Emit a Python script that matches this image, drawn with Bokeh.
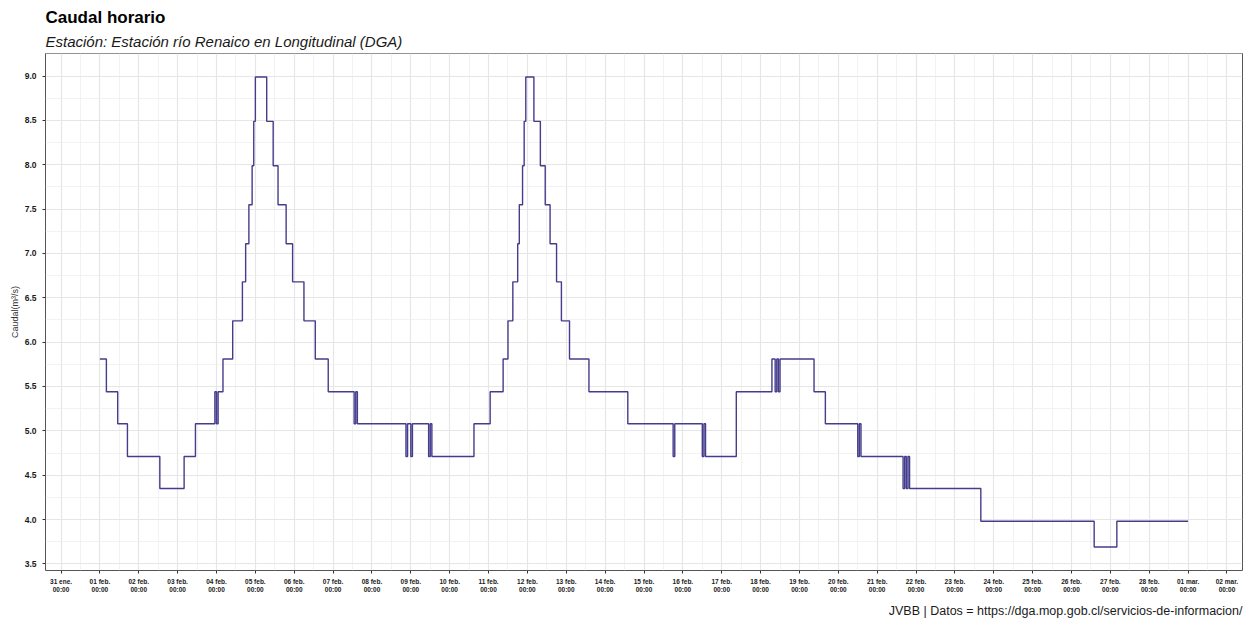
from bokeh.plotting import figure
from bokeh.models import FixedTicker, Title, Range1d, ColumnDataSource
from bokeh.embed import file_html
from bokeh.resources import INLINE

# ---------------- data (hours since 01 feb 00:00, value in m3/s after each change) ----
change_hours = [0, 4, 11, 17, 37, 52, 59, 71, 72, 73, 76, 82, 88, 90, 92, 94, 95, 96,
                103, 107, 110, 115, 119, 126, 133, 141, 157, 158, 159, 189, 190, 192,
                193, 203, 204, 205, 231, 241, 249, 252, 255, 258, 259, 261, 262, 263,
                268, 272, 275, 278, 282, 285, 290, 302, 326, 354, 355, 372, 373, 374,
                393, 415, 417, 418, 419, 420, 441, 448, 468, 469, 470, 496, 497, 498,
                499, 500, 544, 614, 628, 672]
caudal = [5.81, 5.44, 5.08, 4.71, 4.35, 4.71, 5.08, 5.44, 5.08, 5.44, 5.81, 6.24, 6.68,
          7.11, 7.55, 7.99, 8.49, 8.99,
          8.49, 7.99, 7.55, 7.11, 6.68, 6.24, 5.81, 5.44, 5.08, 5.44, 5.08, 4.71, 5.08, 4.71,
          5.08, 4.71, 5.08, 4.71, 5.08, 5.44, 5.81, 6.24, 6.68, 7.11, 7.55, 7.99, 8.49, 8.99,
          8.49, 7.99, 7.55, 7.11, 6.68, 6.24, 5.81, 5.44, 5.08, 4.71, 5.08, 4.71, 5.08, 4.71,
          5.44, 5.81, 5.44, 5.81, 5.44, 5.81, 5.44, 5.08, 4.71, 5.08, 4.71, 4.35, 4.71, 4.35,
          4.71, 4.35, 3.98, 3.69, 3.98, 3.98]

x_tick_hours = [-24 + 24 * i for i in range(31)]
x_tick_labels = ["31 ene.", "01 feb.", "02 feb.", "03 feb.", "04 feb.", "05 feb.", "06 feb.",
                 "07 feb.", "08 feb.", "09 feb.", "10 feb.", "11 feb.", "12 feb.", "13 feb.",
                 "14 feb.", "15 feb.", "16 feb.", "17 feb.", "18 feb.", "19 feb.", "20 feb.",
                 "21 feb.", "22 feb.", "23 feb.", "24 feb.", "25 feb.", "26 feb.", "27 feb.",
                 "28 feb.", "01 mar.", "02 mar."]
x_tick_time = "00:00"
x_minor_hours = [-12 + 24 * i for i in range(30)]

y_ticks = [3.5, 4.0, 4.5, 5.0, 5.5, 6.0, 6.5, 7.0, 7.5, 8.0, 8.5, 9.0]
y_tick_labels = ["3.5", "4.0", "4.5", "5.0", "5.5", "6.0", "6.5", "7.0", "7.5", "8.0", "8.5", "9.0"]
y_minor = [3.75, 4.25, 4.75, 5.25, 5.75, 6.25, 6.75, 7.25, 7.75, 8.25, 8.75, 9.25]

title_text = "Caudal horario"
subtitle_text = "Estación: Estación río Renaico en Longitudinal (DGA)"
caption_text = "JVBB | Datos = https://dga.mop.gob.cl/servicios-de-informacion/"
y_label = "Caudal(m³/s)"

FONT = "Liberation Sans"
LINE_COLOR = "#443C8C"

# ggplot-like expansion (5%)
xspan = change_hours[-1] - change_hours[0]
yspan = max(caudal) - min(caudal)
x_range = Range1d(change_hours[0] - 0.05 * xspan, change_hours[-1] + 0.05 * xspan)
y_range = Range1d(min(caudal) - 0.05 * yspan, max(caudal) + 0.05 * yspan)

p = figure(width=1246, height=624, output_backend="svg", toolbar_location=None,
           title=None, x_range=x_range, y_range=y_range,
           min_border_left=45, min_border_right=4, min_border_top=53, min_border_bottom=53,
           background_fill_color="white", border_fill_color="white")

src = ColumnDataSource(dict(h=change_hours, q=caudal))
p.step(x="h", y="q", source=src, mode="after", line_color=LINE_COLOR, line_width=1.4)

# titles
sub = Title(text=subtitle_text, text_font=FONT, text_font_size="15px",
            text_font_style="italic", text_color="#1a1a1a", align="left", offset=0, standoff=8)
p.add_layout(sub, "above")
main = Title(text=title_text, text_font=FONT, text_font_size="17px",
             text_font_style="bold", text_color="#000000", align="left", offset=0, standoff=0)
p.add_layout(main, "above")
cap = Title(text=caption_text, text_font=FONT, text_font_size="12.5px",
            text_font_style="normal", text_color="#1a1a1a", align="right", standoff=13)
p.add_layout(cap, "below")

# x axis
xt = FixedTicker(ticks=x_tick_hours, minor_ticks=x_minor_hours)
xa = p.xaxis[0]
xa.ticker = xt
xa.major_label_overrides = {h: f"{lab}\n{x_tick_time}" for h, lab in zip(x_tick_hours, x_tick_labels)}
xa.major_label_text_font = FONT
xa.major_label_text_font_size = "6.5px"
xa.major_label_text_font_style = "bold"
xa.major_label_text_color = "#1a1a1a"
xa.major_label_standoff = 3
xa.axis_line_color = None
xa.major_tick_line_color = "#333333"
xa.major_tick_out = 3
xa.major_tick_in = 0
xa.minor_tick_line_color = None

# y axis
yt = FixedTicker(ticks=y_ticks, minor_ticks=y_minor)
ya = p.yaxis[0]
ya.ticker = yt
ya.major_label_overrides = {v: lab for v, lab in zip(y_ticks, y_tick_labels)}
ya.major_label_text_font = FONT
ya.major_label_text_font_size = "8.5px"
ya.major_label_text_font_style = "bold"
ya.major_label_text_color = "#1a1a1a"
ya.major_label_standoff = 5
ya.axis_line_color = None
ya.major_tick_line_color = "#333333"
ya.major_tick_out = 3
ya.major_tick_in = 0
ya.minor_tick_line_color = None
ya.axis_label = y_label
ya.axis_label_text_font = FONT
ya.axis_label_text_font_size = "9px"
ya.axis_label_text_font_style = "normal"
ya.axis_label_text_color = "#333333"
ya.axis_label_standoff = 2

# grids
for g in (p.xgrid[0], p.ygrid[0]):
    g.grid_line_color = "#E6E6E6"
    g.grid_line_width = 1.2
    g.minor_grid_line_color = "#EFEFEF"
    g.minor_grid_line_width = 0.8
p.xgrid[0].ticker = xt
p.ygrid[0].ticker = yt

p.outline_line_color = "#555555"
p.outline_line_width = 1

open("out.html", "w").write(file_html(p, INLINE, title="Caudal horario"))
